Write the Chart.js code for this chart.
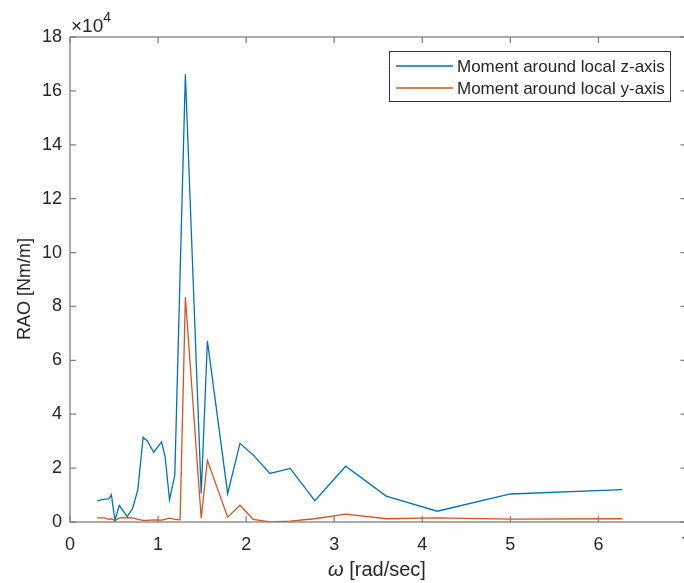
<!DOCTYPE html>
<html>
<head>
<meta charset="utf-8">
<script src="https://cdn.jsdelivr.net/npm/chart.js@4"></script>
<style>
  html, body { margin: 0; padding: 0; background: #fff; overflow: hidden; width: 684px; height: 583px; }
</style>
</head>
<body>
<canvas id="raoChart" width="700" height="583"></canvas>
<script>
// wave frequency [rad/s]
const omega = [0.31, 0.39, 0.44, 0.47, 0.51, 0.56, 0.65, 0.71, 0.77, 0.83, 0.88, 0.95,
    1.04, 1.08, 1.13, 1.19, 1.25, 1.31, 1.49, 1.56, 1.79, 1.93, 2.08, 2.27, 2.50,
    2.78, 3.13, 3.59, 4.17, 5.00, 6.27];

// RAO [Nm/m]
const momentZ = [7800, 8500, 8600, 10100, 700, 6100, 2000, 5000, 11900, 31400, 30000, 25900,
    29700, 24200, 8200, 17400, 92000, 166200, 10600, 67200, 10500, 29200, 24900, 18000, 19900,
    7900, 20700, 9600, 4000, 10400, 12000];
const momentY = [1500, 1500, 1000, 1200, 500, 1500, 1600, 1500, 1000, 600, 600, 800,
    700, 1000, 1400, 1000, 800, 83400, 1400, 22900, 1800, 6200, 1000, 0, 300,
    1200, 2900, 1200, 1500, 1100, 1200];

const seriesNames = ['Moment around local z-axis', 'Moment around local y-axis'];
const seriesColors = ['#0072BD', '#D95319'];

const xTicks = [0, 1, 2, 3, 4, 5, 6, 7];
const yTicks = [0, 2, 4, 6, 8, 10, 12, 14, 16, 18]; // x 10^4

const textColor = '#262626';
const axisColor = '#808080';
const fontFamily = '"Liberation Sans", Arial, Helvetica, sans-serif';

Chart.defaults.font.family = fontFamily;
Chart.defaults.font.size = 18;
Chart.defaults.color = textColor;

// MATLAB-like box, inward ticks, labels and legend
const matlabAxes = {
    id: 'matlabAxes',
    afterDraw(chart) {
        const ctx = chart.ctx;
        const a = chart.chartArea;
        const xs = chart.scales.x;
        const ys = chart.scales.y;
        const tl = 6;

        ctx.save();
        ctx.strokeStyle = axisColor;
        ctx.lineWidth = 1.3;
        ctx.strokeRect(a.left, a.top, a.right - a.left, a.bottom - a.top);

        ctx.beginPath();
        xTicks.forEach(v => {
            const px = xs.getPixelForValue(v);
            ctx.moveTo(px, a.bottom); ctx.lineTo(px, a.bottom - tl);
            ctx.moveTo(px, a.top); ctx.lineTo(px, a.top + tl);
        });
        yTicks.forEach(v => {
            const py = ys.getPixelForValue(v * 1e4);
            ctx.moveTo(a.left, py); ctx.lineTo(a.left + tl, py);
            ctx.moveTo(a.right, py); ctx.lineTo(a.right - tl, py);
        });
        ctx.stroke();

        // exponent
        ctx.fillStyle = textColor;
        ctx.textBaseline = 'alphabetic';
        ctx.textAlign = 'left';
        ctx.font = '19px ' + fontFamily;
        ctx.fillText('\u00d710', a.left + 1, a.top - 5);
        const w = ctx.measureText('\u00d710').width;
        ctx.font = '14px ' + fontFamily;
        ctx.fillText('4', a.left + 1 + w, a.top - 15);

        // x title
        ctx.font = 'italic 20px ' + fontFamily;
        const wo = ctx.measureText('\u03c9').width;
        ctx.font = '20px ' + fontFamily;
        const wr = ctx.measureText(' [rad/sec]').width;
        const cx = 377;
        let sx = cx - (wo + wr) / 2;
        ctx.textBaseline = 'middle';
        ctx.font = 'italic 20px ' + fontFamily;
        ctx.fillText('\u03c9', sx, 570);
        ctx.font = '20px ' + fontFamily;
        ctx.fillText(' [rad/sec]', sx + wo, 570);

        // y title
        ctx.save();
        ctx.translate(25, 289);
        ctx.rotate(-Math.PI / 2);
        ctx.textAlign = 'center';
        ctx.font = '18px ' + fontFamily;
        ctx.fillText('RAO [Nm/m]', 0, 0);
        ctx.restore();

        // legend
        ctx.fillStyle = '#fff';
        ctx.fillRect(389.5, 51.5, 281, 50);
        ctx.strokeStyle = '#333';
        ctx.lineWidth = 1;
        ctx.strokeRect(389.5, 51.5, 281, 50);
        const rows = [66, 88];
        seriesNames.forEach((name, i) => {
            ctx.strokeStyle = seriesColors[i];
            ctx.lineWidth = 1.3;
            ctx.beginPath();
            ctx.moveTo(396, rows[i]);
            ctx.lineTo(453, rows[i]);
            ctx.stroke();
            ctx.fillStyle = textColor;
            ctx.textAlign = 'left';
            ctx.textBaseline = 'middle';
            ctx.font = '17px ' + fontFamily;
            ctx.fillText(name, 457, rows[i] + 1);
        });
        ctx.restore();
    }
};

const ctx = document.getElementById('raoChart');

new Chart(ctx, {
    type: 'line',
    data: {
        labels: omega,
        datasets: [{
            label: seriesNames[0],
            data: omega.map((w, i) => ({ x: w, y: momentZ[i] })),
            borderColor: seriesColors[0],
            borderWidth: 1.3,
            pointRadius: 0,
            tension: 0,
            fill: false
        }, {
            label: seriesNames[1],
            data: omega.map((w, i) => ({ x: w, y: momentY[i] })),
            borderColor: seriesColors[1],
            borderWidth: 1.3,
            pointRadius: 0,
            tension: 0,
            fill: false
        }]
    },
    options: {
        responsive: false,
        animation: false,
        events: [],
        layout: {
            padding: { top: 37, right: 13.5, bottom: 0, left: 0 }
        },
        plugins: {
            legend: { display: false },
            tooltip: { enabled: false }
        },
        scales: {
            x: {
                type: 'linear',
                min: 0,
                max: 7,
                afterFit: scale => { scale.height = 61; },
                afterBuildTicks: scale => { scale.ticks = xTicks.map(v => ({ value: v })); },
                grid: { display: false },
                border: { display: false },
                ticks: {
                    padding: 4,
                    maxRotation: 0,
                    autoSkip: false,
                    callback: v => v
                }
            },
            y: {
                type: 'linear',
                min: 0,
                max: 180000,
                afterFit: scale => { scale.width = 70; },
                afterBuildTicks: scale => { scale.ticks = yTicks.map(v => ({ value: v * 1e4 })); },
                grid: { display: false },
                border: { display: false },
                ticks: {
                    padding: 0,
                    autoSkip: false,
                    callback: v => v / 1e4
                }
            }
        }
    },
    plugins: [matlabAxes]
});
</script>
</body>
</html>
